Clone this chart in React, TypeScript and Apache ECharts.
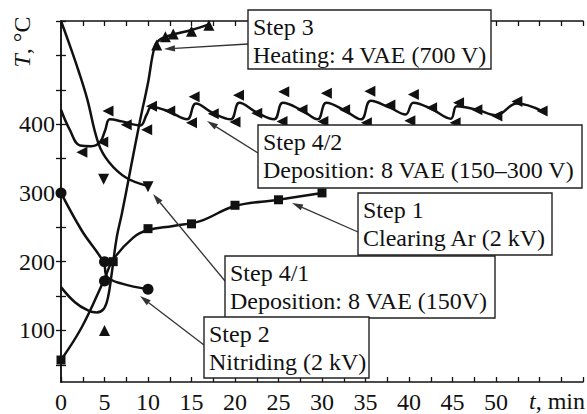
import React, { useEffect, useRef } from "react";
import * as echarts from "echarts";

// ---- data ----
const xLabelValues = [0, 5, 10, 15, 20, 25, 30, 35, 40, 45, 50];
const yLabelValues = [100, 200, 300, 400];
const yTickValues = [50, 100, 150, 200, 250, 300, 350, 400, 450, 500, 550];

// Step 1: Clearing Ar (squares)
const step1Curve = [[0, 57], [2.4, 105], [4.9, 172], [6, 203], [8.3, 235], [10, 246], [12.9, 252], [16, 259], [20, 281], [25, 290], [30, 300]];
const step1Marks = [[0, 57], [6, 200], [10, 248], [15, 255], [20, 282], [25, 290], [30, 300]];

// Step 2: Nitriding (circles)
const step2Curve = [[0, 300], [2.4, 245], [4.9, 199], [5.3, 178], [7, 168], [10, 160]];
const step2Marks = [[0, 300], [5, 200], [5, 172], [10, 160]];

// Step 3: Heating (up triangles)
const step3Curve = [[0, 163], [1.6, 141], [3.1, 129], [4.1, 126], [4.9, 131], [5.4, 148], [5.8, 180], [6.4, 235], [7, 270], [8, 335], [9, 400], [10, 460], [10.8, 514], [11.5, 524], [12.5, 529], [15, 537], [17, 545]];
const step3Marks = [[5, 100], [11, 515], [12, 527], [12.9, 531], [15, 535], [17, 544]];

// Step 4/1: Deposition 150 V (down triangles)
const step41Curve = [[0, 550], [1, 515], [2, 478], [3, 437], [4.3, 372], [5.5, 345], [7.5, 322], [10, 310]];
const step41Marks = [[4.9, 320], [10, 309]];

// Step 4/2: Deposition 150–300 V (left triangles)
const step42Curve = [[0, 421], [1, 392], [2.2, 369], [3.5, 368], [4.5, 374], [5.1, 392], [5.6, 407], [7, 404], [9.1, 398], [9.85, 414], [10.4, 425], [12.3, 419], [14.5, 407], [15.5, 430], [17.5, 416], [19.5, 407], [20.5, 431], [22.5, 417], [24.5, 407], [25.5, 431], [27.7, 420], [29.5, 407], [30.5, 431], [32.6, 420], [34.5, 407], [35.6, 434], [37.8, 424], [39.6, 414], [40.5, 431], [42.6, 422], [44.8, 408], [45.5, 426], [47.8, 421], [50, 413], [52.4, 430], [55.3, 419]];
const step42Marks = [[2.4, 359], [4.8, 374], [5.4, 419], [7.5, 399], [9.85, 392], [10.4, 426], [12.5, 419], [15, 402], [15.3, 440], [17.5, 415], [20, 403], [20.4, 442], [22.5, 416], [25.4, 404], [25.6, 447], [27.7, 421], [30.1, 404], [30.5, 445], [32.6, 421], [35.1, 402], [35.5, 448], [37.8, 428], [40.1, 405], [40.5, 443], [42.6, 424], [45.3, 402], [45.7, 431], [47.8, 421], [50.1, 412], [52.4, 433], [55.3, 419]];

const annotations = [
  { l1: "Step 3", l2: "Heating: 4 VAE (700 V)", box: [248, 10, 243, 59], from: [248, 44], to: [164, 49] },
  { l1: "Step 4/2", l2: "Deposition: 8 VAE (150\u2013300 V)", box: [258, 125, 324, 63], from: [258, 153], to: [207, 121] },
  { l1: "Step 1", l2: "Clearing Ar (2 kV)", box: [358, 193, 194, 62], from: [358, 232], to: [292, 203] },
  { l1: "Step 4/1", l2: "Deposition: 8 VAE (150V)", box: [225, 256, 270, 62], from: [225, 281], to: [153, 194] },
  { l1: "Step 2", l2: "Nitriding (2 kV)", box: [204, 317, 165, 61], from: [204, 345], to: [140, 296] },
];

const FONT = "Liberation Serif, Times New Roman, serif";
const INK = "#111";

function arrow(x1: number, y1: number, x2: number, y2: number): any[] {
  const dx = x2 - x1, dy = y2 - y1;
  const len = Math.sqrt(dx * dx + dy * dy);
  const ux = dx / len, uy = dy / len;
  const hl = 11, hw = 3.2;
  const bx = x2 - ux * hl, by = y2 - uy * hl;
  return [
    { type: "line", shape: { x1, y1, x2: bx, y2: by }, style: { stroke: "#333", lineWidth: 1.3 }, z: 50 },
    {
      type: "polygon",
      shape: { points: [[x2, y2], [bx - uy * hw, by + ux * hw], [bx + uy * hw, by - ux * hw]] },
      style: { fill: "#333" },
      z: 50,
    },
  ];
}

export default function App() {
  const ref = useRef<HTMLDivElement>(null);
  useEffect(() => {
    if (!ref.current) return;
    const chart = echarts.init(ref.current, null, { renderer: "svg" });

    const lineSeries = (data: number[][], smooth: number) => ({
      type: "line",
      data,
      smooth,
      showSymbol: false,
      lineStyle: { color: INK, width: 2.5 },
      xAxisIndex: 0,
      yAxisIndex: 0,
      z: 3,
      silent: true,
    });
    const markSeries = (data: number[][], symbol: string, size: number, rotate = 0) => ({
      type: "scatter",
      data,
      symbol,
      symbolSize: size,
      symbolRotate: rotate,
      itemStyle: { color: INK, opacity: 1 },
      xAxisIndex: 0,
      yAxisIndex: 0,
      z: 4,
      silent: true,
    });

    const txt = (x: number, y: number, text: string, align = "left", rotation = 0) => ({
      type: "text",
      x,
      y,
      rotation,
      style: {
        text,
        rich: { i: { fontStyle: "italic", fontFamily: FONT, fontSize: 24, fill: INK } },
        fontFamily: FONT,
        fontSize: 24,
        fill: INK,
        align,
        verticalAlign: "middle",
      },
      z: 61,
    });

    const graphics: any[] = [];
    annotations.forEach((a) => {
      graphics.push(...arrow(a.from[0], a.from[1], a.to[0], a.to[1]));
      const [bx, by, bw, bh] = a.box;
      graphics.push({
        type: "rect",
        shape: { x: bx, y: by, width: bw, height: bh },
        style: { fill: "#fff", stroke: "#222", lineWidth: 1.4 },
        z: 60,
      });
      graphics.push(txt(bx + 5, by + 17, a.l1));
      graphics.push(txt(bx + 5, by + 45, a.l2));
    });
    graphics.push(txt(22, 42, "{i|T}, \u00b0C", "center", Math.PI / 2));
    graphics.push(txt(585, 401, "{i|t}, min", "right"));

    const axisLine = { show: true, lineStyle: { color: INK, width: 1.5 } };
    const tick = { show: true, inside: true, length: 5, lineStyle: { color: INK, width: 1.3 } };
    const minor = { show: true, splitNumber: 2, length: 5, lineStyle: { color: INK, width: 1.3 } };

    chart.setOption({
      animation: false,
      backgroundColor: "#fff",
      grid: { left: 61, right: 4, top: 21, bottom: 32, containLabel: false },
      xAxis: [
        {
          type: "value",
          min: 0,
          max: 60,
          interval: 5,
          position: "bottom",
          axisLine,
          axisTick: tick,
          minorTick: minor,
          splitLine: { show: false },
          axisLabel: {
            show: true,
            margin: 8,
            fontFamily: FONT,
            fontSize: 24,
            color: INK,
            formatter: (v: number) => (xLabelValues.indexOf(v) >= 0 ? String(v) : ""),
          },
        },
        {
          type: "value",
          min: 0,
          max: 60,
          interval: 5,
          position: "top",
          axisLine,
          axisTick: tick,
          minorTick: minor,
          splitLine: { show: false },
          axisLabel: { show: false },
        },
      ],
      yAxis: [
        {
          type: "value",
          min: 25,
          max: 550,
          position: "left",
          axisLine,
          axisTick: { ...tick, customValues: yTickValues },
          splitLine: { show: false },
          axisLabel: {
            show: true,
            margin: 6,
            fontFamily: FONT,
            fontSize: 24,
            color: INK,
            customValues: yLabelValues,
          },
        },
        {
          type: "value",
          min: 25,
          max: 550,
          position: "right",
          axisLine,
          axisTick: { ...tick, customValues: yTickValues },
          splitLine: { show: false },
          axisLabel: { show: false, customValues: yLabelValues },
        },
      ],
      series: [
        lineSeries(step1Curve, 0.4),
        markSeries(step1Marks, "rect", 9),
        lineSeries(step2Curve, 0.4),
        markSeries(step2Marks, "circle", 11),
        lineSeries(step3Curve, 0.4),
        markSeries(step3Marks, "triangle", 11),
        lineSeries(step41Curve, 0.4),
        markSeries(step41Marks, "triangle", 11, 180),
        lineSeries(step42Curve, 0.4),
        markSeries(step42Marks, "triangle", 11, 90),
      ],
      graphic: graphics,
    });
    return () => chart.dispose();
  }, []);
  return <div ref={ref} style={{ position: "fixed", left: 0, top: 0, width: 587, height: 414 }} />;
}
